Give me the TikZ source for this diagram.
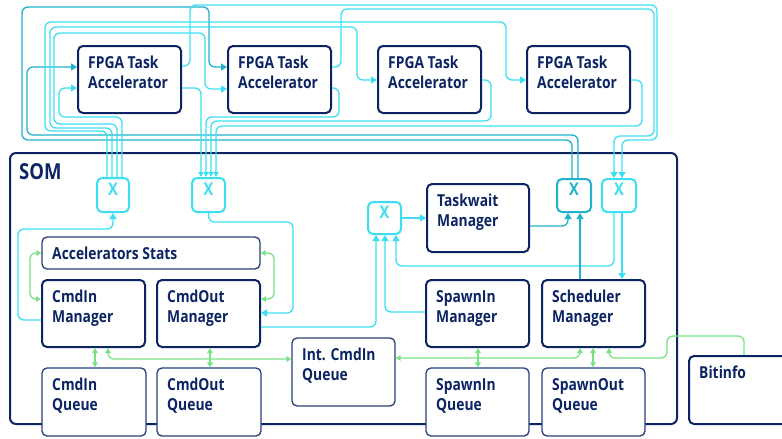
\documentclass[tikz,border=0pt]{standalone}
\usepackage{fontspec}
\setmainfont{Open Sans}[FakeStretch=0.84]
\usetikzlibrary{arrows.meta,fit}
\definecolor{navy}{RGB}{12,36,97}
\definecolor{navyl}{RGB}{40,60,120}
\definecolor{xteal}{RGB}{30,178,204}
\definecolor{xcyan}{RGB}{60,222,242}
\definecolor{xgreen}{RGB}{122,226,132}

\tikzset{
  blkthick/.style={draw=navy, line width=2pt, rounded corners=5pt, fill=white, inner sep=0pt},
  blkthin/.style={draw=navyl, line width=1.3pt, rounded corners=5pt, fill=white, inner sep=0pt},
  xbox/.style={draw=#1, text=#1, line width=2pt, rounded corners=5pt, fill=white, inner sep=0pt,
    font=\bfseries\fontsize{17.5}{17.5}\selectfont},
  lbl/.style={text=navy, inner sep=0pt, anchor=base west, font=\bfseries\fontsize{16.5}{20}\selectfont},
  wire/.style={xcyan, line width=1.3pt, rounded corners=6pt},
  twire/.style={xteal, line width=1.3pt, rounded corners=6pt},
  gwire/.style={xgreen, line width=1.3pt, rounded corners=6pt},
  tip/.style={-{Triangle[length=6pt,width=7pt]}},
  smalltip/.style={-{Triangle[length=5pt,width=5pt]}},
  gboth/.style={{Triangle[length=5pt,width=5.5pt]}-{Triangle[length=5pt,width=5.5pt]}},
  gtip/.style={-{Triangle[length=5pt,width=5.5pt]}},
}

% block: style, name, x0, y0, x1, y1, first line, second line
\newcommand\mkblock[8]{%
  \node[#1, fit={(#3,#4) (#5,#6)}] (#2) {};
  \node[lbl] (#2-a) at (#3+10,#4+22) {#7};
  \if\relax\detokenize{#8}\relax\else
    \node[lbl] (#2-b) at (#3+10,#4+42) {#8};
  \fi}

\begin{document}
\begin{tikzpicture}[x=1pt, y=-1pt]
\useasboundingbox (0,0) rectangle (782,439);

% SOM frame
\node[draw=navy, line width=2pt, rounded corners=6pt, inner sep=0pt, fit={(10,153) (677,424)}] (som) {};
\node[lbl, font=\bfseries\fontsize{22}{22}\selectfont] (somlbl) at (19,179) {SOM};

% accelerators
\mkblock{blkthick}{fpga1}{78}{46}{181}{113}{FPGA Task}{Accelerator}
\mkblock{blkthick}{fpga2}{228}{46}{331}{113}{FPGA Task}{Accelerator}
\mkblock{blkthick}{fpga3}{378}{46}{481}{113}{FPGA Task}{Accelerator}
\mkblock{blkthick}{fpga4}{527}{46}{630}{113}{FPGA Task}{Accelerator}

% SOM internals
\mkblock{blkthin}{stats}{42}{237}{260}{269}{Accelerators Stats}{}
\mkblock{blkthick}{cmdinM}{42}{280}{145}{347}{CmdIn}{Manager}
\mkblock{blkthick}{cmdoutM}{157}{280}{260}{347}{CmdOut}{Manager}
\mkblock{blkthin}{intq}{292}{338}{395}{406}{Int. CmdIn}{Queue}
\mkblock{blkthin}{cmdinQ}{42}{368}{146}{436}{CmdIn}{Queue}
\mkblock{blkthin}{cmdoutQ}{157}{368}{261}{436}{CmdOut}{Queue}
\mkblock{blkthick}{taskwait}{427}{184}{529}{252}{Taskwait}{Manager}
\mkblock{blkthick}{spawninM}{426}{280}{529}{347}{SpawnIn}{Manager}
\mkblock{blkthick}{sched}{542}{280}{645}{347}{Scheduler}{Manager}
\mkblock{blkthin}{spawninQ}{426}{368}{529}{436}{SpawnIn}{Queue}
\mkblock{blkthin}{spawnoutQ}{542}{368}{645}{436}{SpawnOut}{Queue}
\mkblock{blkthick}{bitinfo}{689}{356}{800}{424}{Bitinfo}{}

% crossbars
\node[xbox=xcyan, fit={(97,178) (129,212)}] (x1) {X};
\node[xbox=xcyan, fit={(192,178) (225,212)}] (x2) {X};
\node[xbox=xcyan, fit={(368,202) (401,234)}] (x3) {X};
\node[xbox=xteal, fit={(557,179) (591,212)}] (x4) {X};
\node[xbox=xcyan, fit={(602,179) (636,212)}] (x5) {X};

% X4 to the upper inputs of the first two accelerators
\draw[twire, tip] (x4.north -| 578,0) |- (27,135) |- (fpga1.west |- 0,67);
\draw[twire, tip] (x4.north -| 572,0) |- (22,140) |- (209,7) |- (fpga2.west |- 0,67);

% X1 to the command inputs
\draw[wire, tip] (x1.north -| 122,0) |- (59,117) |- (fpga1.west |- 0,88);
\draw[wire, tip] (x1.north -| 117,0) |- (54,124) |- (205,33) |- (fpga2.west |- 0,89);
\draw[wire, tip] (x1.north -| 112,0) |- (50,128) |- (357,27) |- (fpga3.west |- 0,80);
\draw[wire, tip] (x1.north -| 107,0) |- (45,131) |- (506,22) |- (fpga4.west |- 0,80);

% command outputs to X2
\draw[wire, smalltip] (fpga1.east |- 0,88) -| (x2.north -| 201,0);
\draw[wire, smalltip] (fpga2.east |- 0,88) -| (339,117) -| (x2.north -| 206,0);
\draw[wire, smalltip] (fpga3.east |- 0,80) -| (491,121) -| (x2.north -| 211,0);
\draw[wire, smalltip] (fpga4.east |- 0,80) -| (642,126) -| (x2.north -| 216,0);

% spawn outputs to X5
\draw[wire, tip] (fpga1.east |- 0,66) -| (190,5) -| (657,140) -| (x5.north -| 622,0);
\draw[wire, tip] (fpga2.east |- 0,67) -| (341,9) -| (654,136) -| (x5.north -| 614,0);

% SOM internal data paths
\draw[wire, tip] (cmdinM.west |- 0,320) -| (18,229) -| (x1.south);
\draw[wire, tip] (x2.south) |- (293,222) |- (cmdoutM.east |- 0,313);
\draw[wire, tip] (cmdoutM.east |- 0,327) -| (x3.south -| 376,0);
\draw[wire, tip] (spawninM.west |- 0,312) -| (x3.south -| 385,0);
\draw[wire, tip] (x5.south -| 614,0) |- (396,266) -- (x3.south -| 396,0);
\draw[wire, tip] (x5.south -| 622,0) -- (sched.north -| 622,0);
\draw[wire, tip] (x3.east) -- (taskwait.west |- x3.east);
\draw[twire, tip] (taskwait.east |- 0,226) -| (x4.south -| 568,0);
\draw[twire, tip] (sched.north -| 580,0) -- (x4.south -| 580,0);

% queue and statistics links
\draw[gwire, gboth] (stats.west |- 0,253) -| (30,299) -- (cmdinM.west |- 0,299);
\draw[gwire, gboth] (stats.east |- 0,253) -| (274,299) -- (cmdoutM.east |- 0,299);
\draw[gwire, gboth] (cmdinM.south -| 95,0) -- (cmdinQ.north -| 95,0);
\draw[gwire, gboth] (cmdoutM.south -| 210,0) -- (cmdoutQ.north -| 210,0);
\draw[gwire, gboth] (cmdinM.south -| 108,0) |- (intq.west |- 0,359);
\draw[gwire, gboth] (intq.east |- 0,358) -| (sched.south -| 580,0);
\draw[gwire, gboth] (spawninM.south -| 478,0) -- (spawninQ.north -| 478,0);
\draw[gwire, gboth] (sched.south -| 593,0) -- (spawnoutQ.north -| 593,0);
\draw[gwire, gtip] (bitinfo.north -| 744,0) |- (667,336) |- (609,358) -- (sched.south -| 609,0);
\end{tikzpicture}
\end{document}
